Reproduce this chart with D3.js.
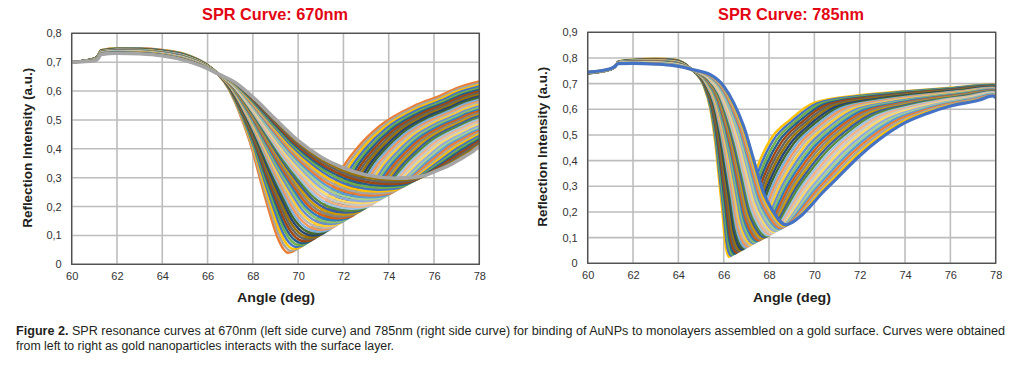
<!DOCTYPE html>
<html>
<head>
<meta charset="utf-8">
<script src="https://cdn.jsdelivr.net/npm/d3@7"></script>
<style>
  html, body { margin: 0; padding: 0; background: #ffffff; }
  svg { display: block; }
</style>
</head>
<body>
<svg id="chart" width="1011" height="365"></svg>
<script>
// ---------------- DATA ----------------
const angleTicks = [60, 62, 64, 66, 68, 70, 72, 74, 76, 78];
const yTicks670 = [0, 0.1, 0.2, 0.3, 0.4, 0.5, 0.6, 0.7, 0.8];
const yTicks785 = [0, 0.1, 0.2, 0.3, 0.4, 0.5, 0.6, 0.7, 0.8, 0.9];

const titles = ["SPR Curve: 670nm", "SPR Curve: 785nm"];
const xLabel = "Angle (deg)";
const yLabel = "Reflection Intensity (a.u.)";
const captionBold = "Figure 2.";
const captionLine1 = " SPR resonance curves at 670nm (left side curve) and 785nm (right side curve) for binding of AuNPs to monolayers assembled on a gold surface. Curves were obtained";
const captionLine2 = "from left to right as gold nanoparticles interacts with the surface layer.";

// 670 nm: first recorded curve (leftmost dip) and last recorded curve, [angle, reflection]
// points with the same index correspond to the same feature of the curve
const first670 = [
  [60, 0.700], [61, 0.713], [61.15, 0.722], [61.3, 0.742], [62, 0.748], [63, 0.748],
  [64, 0.742], [65, 0.728], [66, 0.690], [66.45, 0.660],
  [66.93, 0.607], [67.51, 0.503], [67.96, 0.400], [68.32, 0.295], [68.69, 0.191],
  [69.06, 0.099], [69.35, 0.053], [69.55, 0.040], [69.9, 0.050],
  [70.4, 0.100], [71.0, 0.180], [71.5, 0.260], [72.0, 0.338], [72.6, 0.402],
  [73.6, 0.479], [75.1, 0.548], [76.3, 0.585], [77.0, 0.610], [78.0, 0.633]
];
const last670 = [
  [60, 0.700], [61, 0.705], [61.15, 0.711], [61.3, 0.727], [62, 0.731], [63, 0.729],
  [64, 0.722], [65, 0.706], [66, 0.678], [66.45, 0.660],
  [67.22, 0.630], [68.1, 0.572], [68.99, 0.503], [70.0, 0.428], [71.04, 0.370],
  [71.93, 0.336], [72.96, 0.310], [74.3, 0.298], [75.2, 0.302],
  [75.6, 0.308], [76.0, 0.320], [76.4, 0.333], [76.8, 0.348], [77.2, 0.366],
  [77.5, 0.380], [77.7, 0.390], [77.85, 0.400], [77.95, 0.405], [78.0, 0.410]
];

// 785 nm: first and last recorded curves
const first785 = [
  [60, 0.740], [61, 0.755], [61.2, 0.765], [61.35, 0.786], [62, 0.793], [63, 0.797],
  [63.8, 0.794], [64.2, 0.783], [64.55, 0.758],
  [65.12, 0.690], [65.41, 0.600], [65.63, 0.469], [65.78, 0.339], [65.93, 0.209],
  [66.07, 0.079], [66.15, 0.040], [66.25, 0.025],
  [66.5, 0.080], [66.9, 0.200], [67.2, 0.300], [67.55, 0.390], [68.06, 0.482],
  [68.94, 0.560], [70.0, 0.626], [72.0, 0.655], [74.0, 0.671], [76.0, 0.684],
  [77.87, 0.697], [78.0, 0.696]
];
const last785 = [
  [60, 0.745], [61, 0.758], [61.2, 0.767], [61.35, 0.778], [62, 0.779], [63, 0.776],
  [63.8, 0.770], [64.2, 0.764], [64.55, 0.756],
  [65.41, 0.735], [66.0, 0.690], [66.44, 0.625], [66.88, 0.534], [67.32, 0.404],
  [67.76, 0.274], [68.13, 0.209], [68.75, 0.150],
  [69.38, 0.183], [69.82, 0.222], [70.3, 0.270], [70.96, 0.328], [72.0, 0.419],
  [72.87, 0.483], [74.0, 0.548], [75.07, 0.587], [76.0, 0.613], [77.28, 0.636],
  [77.87, 0.652], [78.0, 0.645]
];

// number of recorded curves in each panel (estimated from the stripes)
const curveCount670 = 40;
const curveCount785 = 32;

// spreadsheet default series palette (cycled by the curves)
const seriesPalette = [
  "#5B9BD5", "#ED7D31", "#A5A5A5", "#FFC000", "#4472C4", "#70AD47",
  "#255E91", "#9E480E", "#636363", "#997300", "#264478", "#43682B",
  "#7CAFDD", "#F1975A", "#B7B7B7", "#FFCD33", "#698ED0", "#8CC168",
  "#327DC2", "#D26012", "#848484", "#CC9A00", "#3A5FA0", "#5A8A39",
  "#9DC3E6", "#F4B183", "#C9C9C9", "#FFD966", "#8FAADC", "#A9D18E"
];

// ---------------- DRAWING ----------------
const svg = d3.select("#chart");
const FONT = "'Liberation Sans', Arial, sans-serif";
const INK = "#231f20";

function buildCurves(first, last, n) {
  return d3.range(n).map(i => {
    const t = n === 1 ? 0 : i / (n - 1);
    return first.map((p, j) => [p[0] + (last[j][0] - p[0]) * t, p[1] + (last[j][1] - p[1]) * t]);
  });
}

function panel(opts) {
  const { left, right, top, bottom, yMax, yTicks, title, titleX, yLabelX, first, last, n, colorOffset, lastColor, lastWidth, id } = opts;
  const x = d3.scaleLinear().domain([60, 78]).range([left, right]);
  const y = d3.scaleLinear().domain([0, yMax]).range([bottom, top]);
  const g = svg.append("g");

  // grid
  g.append("g").selectAll("line.v").data(angleTicks).join("line")
    .attr("x1", d => x(d)).attr("x2", d => x(d))
    .attr("y1", top).attr("y2", bottom)
    .attr("stroke", "#bdbdbd").attr("stroke-width", 1.6);
  g.append("g").selectAll("line.h").data(yTicks).join("line")
    .attr("x1", left).attr("x2", right)
    .attr("y1", d => y(d)).attr("y2", d => y(d))
    .attr("stroke", "#bdbdbd").attr("stroke-width", 1.6);

  // curves
  g.append("clipPath").attr("id", id).append("rect")
    .attr("x", left).attr("y", top).attr("width", right - left).attr("height", bottom - top);
  const curves = buildCurves(first, last, n);
  const line = d3.line().x(d => x(d[0])).y(d => y(d[1])).curve(d3.curveMonotoneX);
  g.append("g").attr("clip-path", `url(#${id})`)
    .selectAll("path").data(curves).join("path")
    .attr("d", line)
    .attr("fill", "none")
    .attr("stroke", (d, i) => (i === n - 1 && lastColor) ? lastColor : seriesPalette[(i + colorOffset) % seriesPalette.length])
    .attr("stroke-width", (d, i) => i === n - 1 ? lastWidth : 2.4)
    .attr("stroke-linejoin", "round");

  // frame
  g.append("rect").attr("x", left).attr("y", top)
    .attr("width", right - left).attr("height", bottom - top)
    .attr("fill", "none").attr("stroke", "#4d4d4d").attr("stroke-width", 1.3);

  // axes (labels only)
  const fmt = d => d === 0 ? "0" : d3.format(".1f")(d).replace(".", ",");
  const yAxis = d3.axisLeft(y).tickValues(yTicks).tickFormat(fmt).tickSize(0).tickPadding(10);
  const ya = g.append("g").attr("transform", `translate(${left},0)`).call(yAxis);
  const xAxis = d3.axisBottom(x).tickValues(angleTicks).tickFormat(d3.format("d")).tickSize(0).tickPadding(8);
  const xa = g.append("g").attr("transform", `translate(0,${bottom})`).call(xAxis);
  [ya, xa].forEach(a => {
    a.select(".domain").remove();
    a.selectAll("text").attr("font-family", FONT).attr("font-size", 11).attr("fill", "#333");
  });

  // titles and labels
  g.append("text").attr("x", titleX).attr("y", 19.5).attr("text-anchor", "middle")
    .attr("font-family", FONT).attr("font-weight", "bold").attr("font-size", 16.5)
    .attr("fill", "#e30613").attr("textLength", 146).attr("lengthAdjust", "spacingAndGlyphs")
    .text(title);
  g.append("text").attr("transform", `translate(${yLabelX},${(top + bottom) / 2 - 1}) rotate(-90)`)
    .attr("text-anchor", "middle").attr("dy", "0.35em")
    .attr("font-family", FONT).attr("font-weight", "bold").attr("font-size", 12.5)
    .attr("fill", INK).attr("textLength", 160).attr("lengthAdjust", "spacingAndGlyphs")
    .text(yLabel);
  g.append("text").attr("x", titleX + 1).attr("y", 302).attr("text-anchor", "middle")
    .attr("font-family", FONT).attr("font-weight", "bold").attr("font-size", 13)
    .attr("fill", INK).attr("textLength", 78).attr("lengthAdjust", "spacingAndGlyphs")
    .text(xLabel);
}

panel({
  id: "clip670", left: 71.7, right: 479.3, top: 33.3, bottom: 264.3,
  yMax: 0.8, yTicks: yTicks670, title: titles[0], titleX: 275, yLabelX: 28,
  first: first670, last: last670, n: curveCount670, colorOffset: 1,
  lastColor: "#A5A5A5", lastWidth: 3.6
});
panel({
  id: "clip785", left: 587.7, right: 995.7, top: 32.3, bottom: 263.3,
  yMax: 0.9, yTicks: yTicks785, title: titles[1], titleX: 791, yLabelX: 543,
  first: first785, last: last785, n: curveCount785, colorOffset: 3,
  lastColor: "#4472C4", lastWidth: 3.2
});

// caption
const cap1 = svg.append("text").attr("x", 16).attr("y", 334.5)
  .attr("font-family", FONT).attr("font-size", 12).attr("fill", INK)
  .attr("textLength", 989).attr("lengthAdjust", "spacingAndGlyphs");
cap1.append("tspan").attr("font-weight", "bold").text(captionBold);
cap1.append("tspan").text(captionLine1);
svg.append("text").attr("x", 16).attr("y", 350)
  .attr("font-family", FONT).attr("font-size", 12).attr("fill", INK)
  .attr("textLength", 378).attr("lengthAdjust", "spacingAndGlyphs")
  .text(captionLine2);
</script>
</body>
</html>
